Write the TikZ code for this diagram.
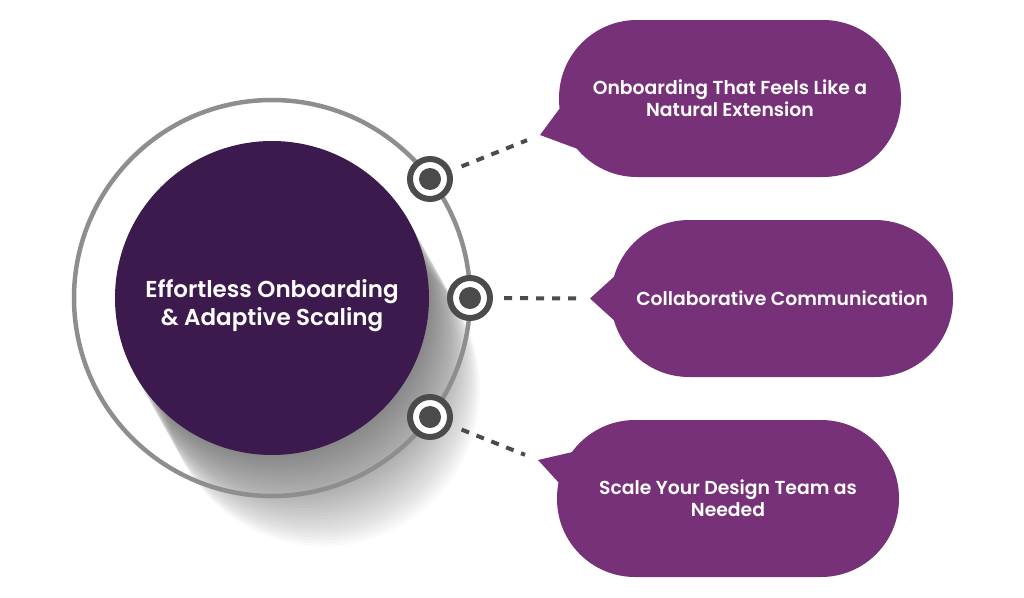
\documentclass[tikz,border=0pt]{standalone}
\usepackage{fontspec}
\setmainfont{Poppins}[BoldFont={Poppins SemiBold}]
\usetikzlibrary{calc}
\definecolor{PFPlum}{HTML}{773179}
\definecolor{PFDeep}{HTML}{3C1A4E}
\definecolor{PFRing}{HTML}{8E8E8E}
\definecolor{PFDot}{HTML}{4B4B4B}

\begin{document}
\begin{tikzpicture}[x=1pt,y=-1pt,
  hub/.style={circle,draw=PFDot,line width=6pt,fill=white,minimum size=40pt,inner sep=0pt},
  bubble/.style={rectangle,rounded corners=78pt,fill=PFPlum,minimum width=342pt,minimum height=157pt,inner sep=0pt,text=white,align=center,font=\fontsize{18.8}{22}\selectfont\bfseries},
  dashlink/.style={PFDot,line width=4pt,dash pattern=on 8pt off 8pt,shorten <=11pt,shorten >=14pt}]
\path[use as bounding box] (0,0) rectangle (1024,597);
\coordinate (mid) at (272,298);
% long shadow under the core
\foreach \k in {1,...,31}
  \fill[black,opacity=.018] ($(mid)+(\k*1.65,\k*2.95)$) circle (157);
\draw[PFRing,line width=4.5pt] (mid) circle (198);
\node[circle,fill=PFDeep,minimum size=314pt,inner sep=0pt] (core) at (mid) {};
\node[text=white,align=center,font=\fontsize{23}{28}\selectfont\bfseries] (coretext) at ([yshift=-8pt]core.center) {Effortless Onboarding\\\& Adaptive Scaling};
% hubs on the ring
\node[hub] (h1) at (430,179) {};
\node[hub] (h2) at (470,298) {};
\node[hub] (h3) at (430,417) {};
\fill[PFDot] (h1) circle (11);
\fill[PFDot] (h2) circle (11);
\fill[PFDot] (h3) circle (11);
% bubbles
\node[bubble] (b1) at (730,98.5) {Onboarding That Feels Like a\\Natural Extension};
\node[bubble] (b2) at (782,298.5) {Collaborative Communication};
\node[bubble] (b3) at (728,498.5) {Scale Your Design Team as\\Needed};
\coordinate (t1) at (540,135);
\coordinate (t2) at (590,298.5);
\coordinate (t3) at (538,460);
\fill[PFPlum] (t1) -- (566,100) -- (594,155) -- cycle;
\fill[PFPlum] (t2) -- (628,264) -- (628,333) -- cycle;
\fill[PFPlum] (t3) -- (590,448) -- (570,495) -- cycle;
% links
\draw[dashlink] (h1) -- (t1);
\draw[dashlink] (h2) -- (t2);
\draw[dashlink] (h3) -- (t3);
\end{tikzpicture}
\end{document}
